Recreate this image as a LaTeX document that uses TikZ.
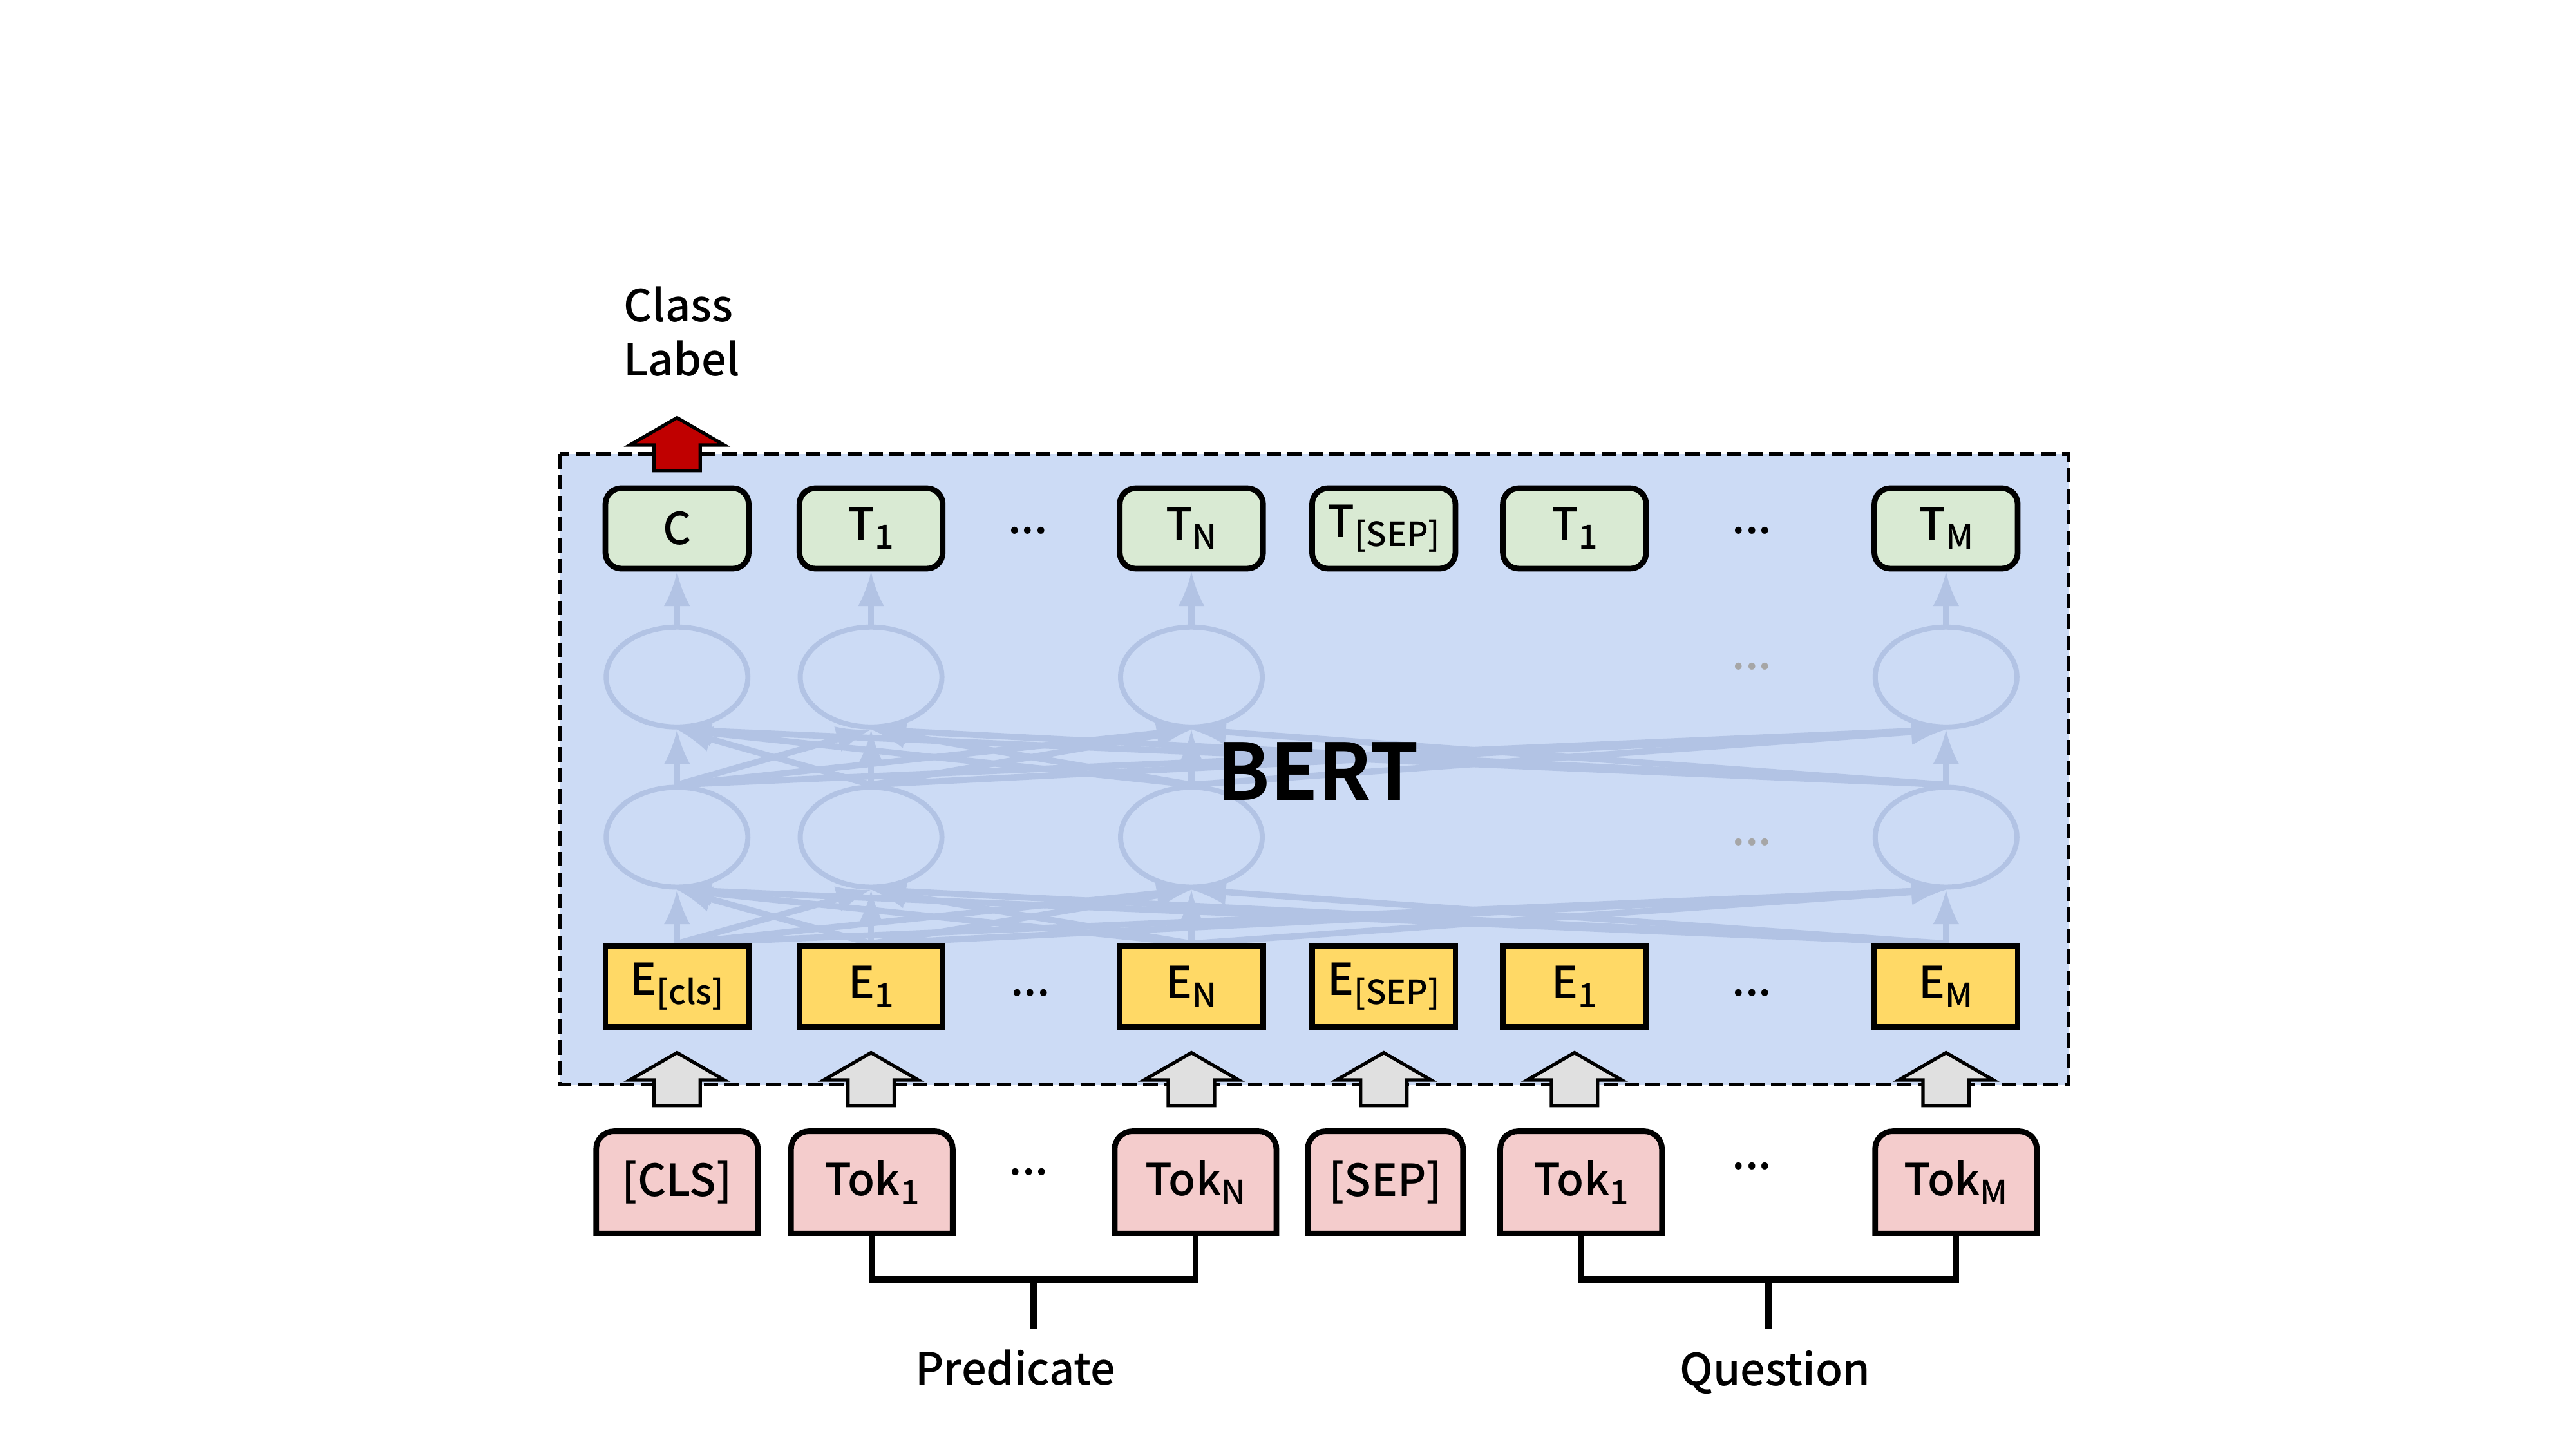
\documentclass[tikz,border=0pt]{standalone}
\usepackage{fontspec}
\setmainfont{Noto Sans CJK SC}[UprightFont={* Medium}, BoldFont={* Bold}]
\usetikzlibrary{calc,positioning,shapes.geometric,backgrounds}
\definecolor{bertbg}{RGB}{204,219,245}
\definecolor{linkblue}{RGB}{178,195,228}
\definecolor{outgreen}{RGB}{217,234,211}
\definecolor{embyellow}{RGB}{255,217,102}
\definecolor{tokpink}{RGB}{244,204,204}
\definecolor{arrgray}{RGB}{224,224,224}
\definecolor{arrred}{RGB}{192,0,0}
\definecolor{dotgray}{RGB}{166,166,166}
\newcommand{\tsub}[1]{\raisebox{-1.6pt}{\fontsize{5.9}{7}\selectfont #1}}
% block arrow pointing up, base centre at #1
\newcommand{\blockup}[2]{\draw[#2] ($(#1)+(-14,0)$) -- ++(0,-15.5) -- ++(-14.5,0) -- ++(28.5,-16.5) -- ++(28.5,16.5) -- ++(-14.5,0) -- ++(0,15.5) -- cycle;}
\tikzset{
  outbox/.style={draw, line width=1pt, rounded corners=1mm, fill=outgreen, minimum width=8.9mm, minimum height=5mm, inner sep=0pt},
  embbox/.style={draw, line width=1pt, fill=embyellow, minimum width=8.9mm, minimum height=5mm, inner sep=0pt},
  tokbox/.style={minimum width=9.9mm, minimum height=6.2mm, inner sep=0pt},
  tokedge/.style={draw, line width=1pt, fill=tokpink},
  layer/.style={ellipse, draw=linkblue, line width=0.9pt, minimum width=8.8mm, minimum height=6.2mm, inner sep=0pt},
  link/.style={draw=linkblue, line width=1.1pt, -latex},
  dots/.style={anchor=base, inner sep=0pt},
  brace/.style={line width=1.1pt},
  inarrow/.style={draw, line width=0.6pt, fill=arrgray},
  outarrow/.style={draw, line width=0.6pt, fill=arrred}
}
\begin{document}
\begin{tikzpicture}[x=0.010256cm,y=-0.010256cm,font=\fontsize{7.8}{9.5}\selectfont]
    \useasboundingbox (0,0) rectangle (1560,877.5);

    % BERT block
    \coordinate (bnw) at (339,275);
    \coordinate (bse) at (1253,657);

    % hidden layers
    \foreach \x/\n in {410/c, 527.5/1, 721.5/n, 1178.5/m}{
      \node[layer] (u\n) at (\x,410) {};
      \node[layer] (l\n) at (\x,507) {};
    }

    % output row
    \node[outbox] (tc) at (410,320) {C};
    \node[outbox] (t1) at (527.5,320) {T\tsub{1}};
    \node[outbox] (tn) at (721.5,320) {T\tsub{N}};
    \node[outbox] (tsep) at (838,320) {T\tsub{[SEP]}};
    \node[outbox] (tq1) at (953.5,320) {T\tsub{1}};
    \node[outbox] (tm) at (1178.5,320) {T\tsub{M}};

    % embedding row
    \node[embbox] (ec) at (410,597.5) {E\tsub{[cls]}};
    \node[embbox] (e1) at (527.5,597.5) {E\tsub{1}};
    \node[embbox] (en) at (721.5,597.5) {E\tsub{N}};
    \node[embbox] (esep) at (838,597.5) {E\tsub{[SEP]}};
    \node[embbox] (eq1) at (953.5,597.5) {E\tsub{1}};
    \node[embbox] (em) at (1178.5,597.5) {E\tsub{M}};

    \begin{scope}[on background layer]
    \fill[bertbg] (bnw) rectangle (bse);
    \draw[line width=0.6pt, dash pattern=on 0.9mm off 0.4mm] (bnw) rectangle (bse);
    \foreach \s in {c,1,n,m}{
      \foreach \t in {c,1,n,m}{
        \draw[link] (e\s.north) -- (l\t.south);
        \draw[link] (l\s.north) -- (u\t.south);
      }
      \draw[link] (u\s.north) -- (t\s.south);
    }
    \end{scope}

    \node[anchor=base] (bert) at (798,484.4) {\fontsize{13.8}{16}\selectfont\bfseries BERT};

    % token row
    \node[tokbox] (kcls) at (410,716) {[CLS]};
    \node[tokbox] (k1) at (528,716) {Tok\tsub{1}};
    \node[tokbox] (kn) at (724,716) {Tok\tsub{N}};
    \node[tokbox, minimum width=9.5mm] (ksep) at (839,716) {[SEP]};
    \node[tokbox] (kq1) at (957.5,716) {Tok\tsub{1}};
    \node[tokbox] (km) at (1184.5,716) {Tok\tsub{M}};
    \begin{scope}[on background layer]
    \foreach \k in {kcls,k1,kn,ksep,kq1,km}
      \draw[tokedge] (\k.south west) [rounded corners=1.1mm] -- (\k.north west) -- (\k.north east) [sharp corners] -- (\k.south east) -- cycle;
    \end{scope}

    % dots
    \node[dots] (dt1) at (622.5,323) {...};
    \node[dots] (dt2) at (1061,323) {...};
    \node[dots, text=dotgray] (du) at (1061,405.5) {...};
    \node[dots, text=dotgray] (dl) at (1061,512) {...};
    \node[dots] (de1) at (624,603) {...};
    \node[dots] (de2) at (1061,603) {...};
    \node[dots] (dk1) at (623,711.6) {...};
    \node[dots] (dk2) at (1061,708) {...};

    % input arrows
    \foreach \x in {410,527.5,721.5,838,953.5,1178.5}{
      \coordinate (a) at (\x,669.5);
      \blockup{a}{inarrow}
    }

    % class label
    \coordinate (r) at (410,285);
    \blockup{r}{outarrow}
    \node[anchor=north west, inner sep=0pt, align=left] (cls) at (377,173) {Class\\Label};

    % segment braces
    \draw[brace] (k1.south) -- ++(0,28) -| (kn.south);
    \draw[brace] ($(k1.south)!0.5!(kn.south)+(0,28)$) -- ++(0,30) coordinate (pe);
    \node[anchor=base] (pred) at (615,838.6) {Predicate};
    \draw[brace] (kq1.south) -- ++(0,28) -| (km.south);
    \draw[brace] ($(kq1.south)!0.5!(km.south)+(0,28)$) -- ++(0,30) coordinate (qe);
    \node[anchor=base] (ques) at (1075,839) {Question};
  \end{tikzpicture}
\end{document}
